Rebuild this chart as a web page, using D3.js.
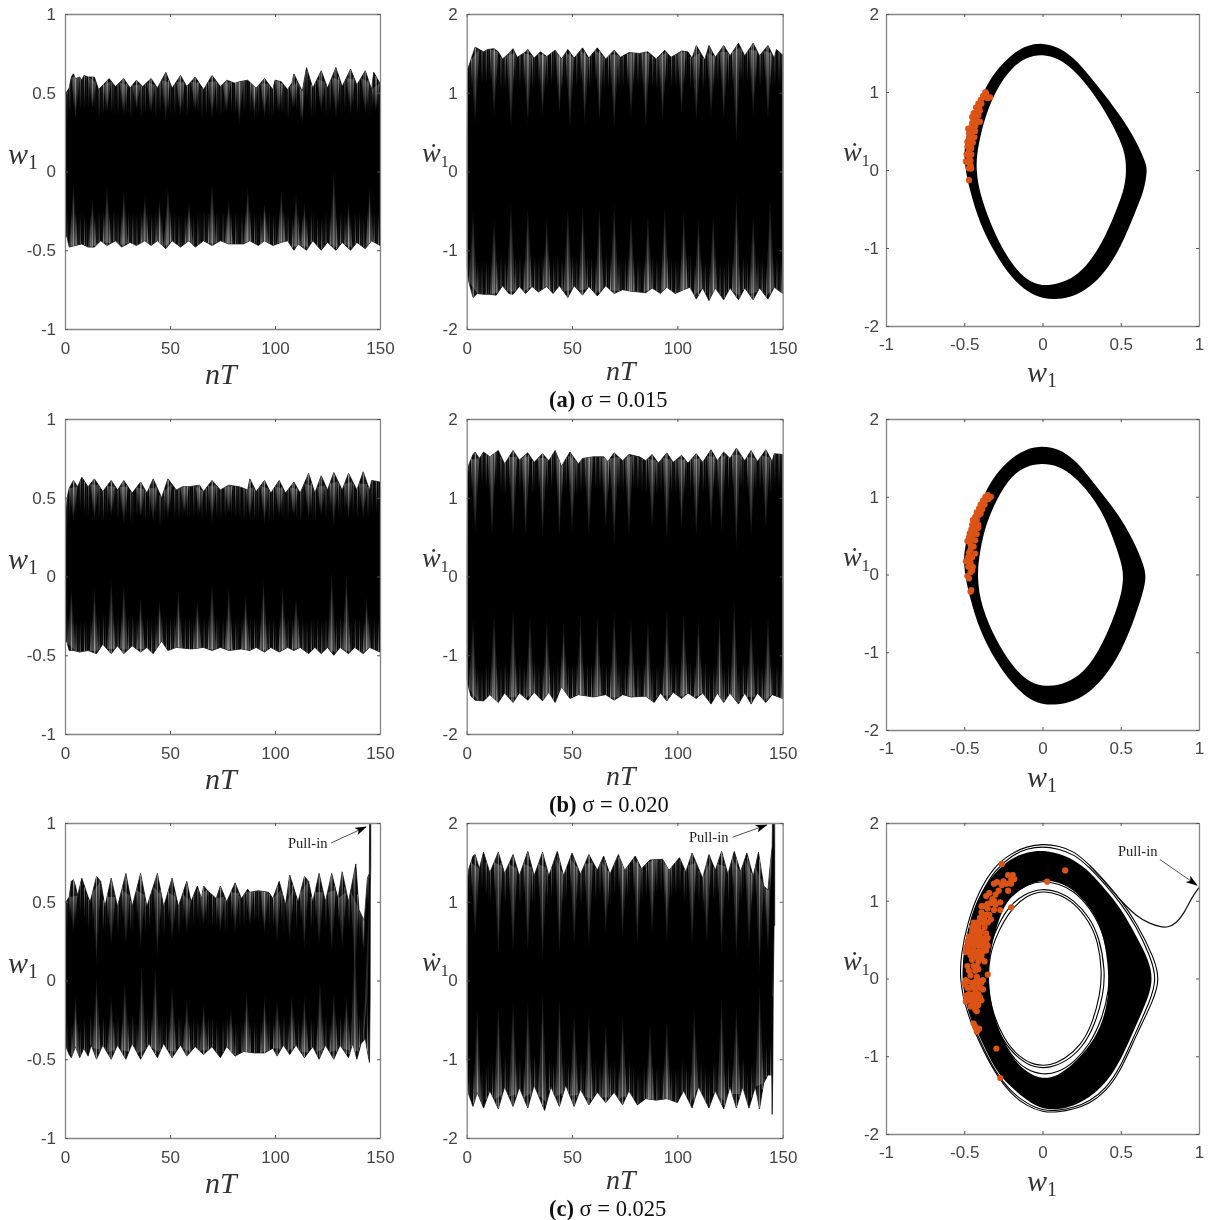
<!DOCTYPE html>
<html>
<head>
<meta charset="utf-8">
<script src="https://cdn.jsdelivr.net/npm/d3@7"></script>
<style>
html, body { margin: 0; background: #fff; }
svg { display: block; filter: blur(0.45px); }
</style>
</head>
<body>
<svg id="chart" width="1208" height="1220"></svg>
<script>
// tick labels
const timeTicks = [0, 50, 100, 150];
const w1Ticks = [-1, -0.5, 0, 0.5, 1];
const velTicks = [-2, -1, 0, 1, 2];
const captionTags = ["(a)", "(b)", "(c)"];
const captionTexts = [" σ = 0.015", " σ = 0.020", " σ = 0.025"];

// envelope of the time histories, [nT, value]
const topW1a = [[0,.3],[.5,.5],[2,.53],[3,.6],[4,.62],[5,.59],[7,.6],[8,.58],[9,.61],[11,.6],[14,.6],[16,.52],[21,.59],[24,.54],[28,.59],[31,.53],[34,.58],[37,.54],[41,.59],[44,.53],[48,.63],[51,.53],[55,.61],[58,.54],[62,.6],[66,.52],[70,.61],[74,.54],[77,.58],[81,.56],[83,.57],[87,.58],[91,.53],[95,.59],[99,.52],[100,.58],[103,.57],[106,.52],[108,.56],[109,.62],[113,.51],[115,.66],[118,.53],[122,.64],[125,.53],[129,.66],[132,.54],[136,.65],[139,.55],[143,.64],[146,.52],[147,.63],[150,.56]];
const botW1a = [[0,-.4],[1,-.42],[2,-.48],[5,-.47],[8,-.46],[11,-.48],[14,-.48],[17,-.44],[20,-.47],[24,-.44],[27,-.48],[31,-.45],[34,-.47],[38,-.44],[41,-.47],[44,-.44],[48,-.49],[51,-.44],[55,-.48],[59,-.44],[62,-.48],[66,-.44],[70,-.47],[74,-.44],[78,-.46],[85,-.46],[88,-.44],[92,-.47],[95,-.44],[99,-.47],[103,-.45],[106,-.44],[109,-.5],[111,-.46],[115,-.5],[118,-.44],[122,-.5],[125,-.45],[129,-.5],[132,-.45],[136,-.5],[139,-.45],[143,-.49],[146,-.44],[150,-.47]];
const topVela = [[0,.4],[.5,1.3],[2,1.42],[3,1.5],[4,1.58],[6,1.55],[8,1.52],[10,1.55],[13,1.56],[15,1.52],[17,1.43],[20,1.5],[22,1.56],[24,1.45],[28,1.52],[29,1.55],[32,1.44],[35,1.52],[38,1.46],[42,1.54],[45,1.43],[48,1.55],[51,1.44],[55,1.57],[58,1.44],[62,1.57],[66,1.43],[70,1.54],[73,1.45],[77,1.51],[82,1.5],[86,1.52],[90,1.43],[94,1.54],[97,1.45],[102,1.53],[105,1.52],[107,1.44],[109,1.6],[113,1.42],[115,1.6],[118,1.45],[122,1.6],[125,1.47],[129,1.63],[132,1.47],[136,1.63],[139,1.47],[143,1.6],[146,1.44],[147,1.55],[150,1.48]];
const botVela = [[0,-1.2],[1,-1.4],[2,-1.5],[3,-1.6],[5,-1.55],[8,-1.56],[11,-1.56],[14,-1.57],[17,-1.45],[20,-1.55],[22,-1.56],[25,-1.46],[28,-1.55],[31,-1.46],[34,-1.53],[38,-1.46],[41,-1.55],[44,-1.45],[48,-1.6],[51,-1.45],[55,-1.57],[58,-1.46],[62,-1.58],[66,-1.45],[70,-1.55],[74,-1.5],[78,-1.52],[85,-1.54],[88,-1.48],[92,-1.55],[95,-1.47],[99,-1.55],[103,-1.5],[106,-1.47],[109,-1.62],[112,-1.48],[115,-1.64],[118,-1.48],[122,-1.63],[125,-1.48],[129,-1.63],[132,-1.48],[136,-1.63],[139,-1.48],[143,-1.62],[146,-1.47],[150,-1.55]];
const topW1b = [[0,.3],[1,.5],[2,.56],[4,.61],[6,.57],[8,.63],[11,.57],[14,.62],[18,.54],[22,.61],[25,.55],[28,.61],[32,.53],[36,.6],[39,.53],[42,.62],[46,.5],[49,.62],[53,.55],[56,.57],[59,.57],[64,.58],[66,.54],[70,.61],[74,.55],[78,.58],[83,.57],[87,.55],[88,.62],[91,.54],[95,.61],[98,.53],[102,.61],[105,.53],[109,.6],[112,.53],[116,.655],[119,.53],[122,.64],[125,.55],[128,.66],[132,.55],[135,.655],[139,.55],[142,.665],[145,.55],[146,.61],[150,.6]];
const botW1b = [[0,-.4],[1,-.42],[2,-.47],[4,-.47],[7,-.48],[11,-.47],[15,-.49],[18,-.43],[22,-.49],[25,-.44],[28,-.49],[32,-.44],[36,-.48],[39,-.45],[42,-.49],[46,-.41],[49,-.47],[53,-.45],[60,-.46],[66,-.45],[70,-.47],[74,-.45],[78,-.47],[84,-.46],[88,-.47],[91,-.45],[95,-.48],[98,-.45],[102,-.48],[106,-.45],[109,-.47],[112,-.45],[116,-.49],[119,-.45],[122,-.49],[125,-.45],[128,-.5],[131,-.45],[135,-.49],[138,-.45],[142,-.49],[145,-.45],[150,-.48]];
const topVelb = [[0,.4],[.5,1.3],[1,1.42],[3,1.55],[4,1.58],[6,1.5],[8,1.58],[11,1.52],[15,1.6],[18,1.43],[22,1.6],[25,1.48],[29,1.57],[32,1.45],[36,1.56],[39,1.47],[42,1.6],[45,1.4],[49,1.58],[53,1.43],[55,1.5],[60,1.52],[65,1.52],[67,1.46],[70,1.57],[74,1.47],[77,1.55],[82,1.52],[85,1.47],[88,1.55],[91,1.44],[95,1.57],[98,1.45],[102,1.54],[105,1.44],[109,1.56],[112,1.45],[116,1.61],[119,1.47],[122,1.58],[125,1.5],[128,1.63],[132,1.47],[135,1.6],[138,1.46],[142,1.61],[145,1.46],[146,1.56],[150,1.55]];
const botVelb = [[0,-1.3],[1,-1.42],[2,-1.52],[4,-1.57],[8,-1.58],[11,-1.5],[15,-1.6],[18,-1.48],[22,-1.6],[25,-1.48],[29,-1.57],[32,-1.47],[36,-1.58],[39,-1.47],[42,-1.6],[45,-1.4],[49,-1.55],[53,-1.5],[60,-1.53],[66,-1.5],[70,-1.57],[74,-1.5],[78,-1.53],[85,-1.52],[89,-1.6],[92,-1.48],[95,-1.58],[98,-1.47],[102,-1.55],[105,-1.48],[109,-1.55],[112,-1.48],[116,-1.62],[119,-1.48],[122,-1.6],[125,-1.48],[129,-1.62],[132,-1.48],[135,-1.62],[138,-1.48],[142,-1.6],[145,-1.5],[150,-1.55]];
const topW1c = [[0,.3],[.5,.5],[2,.53],[3,.63],[4,.64],[5,.6],[6,.54],[8,.65],[11,.53],[12,.5],[15,.66],[17,.63],[19,.47],[22,.65],[25,.47],[29,.68],[32,.47],[36,.68],[39,.47],[44,.68],[47,.47],[51,.65],[54,.47],[58,.63],[60,.5],[63,.6],[65,.52],[66,.6],[68,.57],[72,.52],[74,.6],[77,.5],[81,.62],[84,.52],[87,.58],[88,.56],[92,.57],[97,.56],[99,.52],[102,.63],[105,.48],[107,.67],[111,.5],[114,.66],[116,.63],[118,.5],[121,.68],[124,.5],[127,.68],[130,.52],[132,.69],[135,.5],[138.5,.74],[140,.45],[141,.42],[142.5,.38],[144,.65],[144.9,.68],[145.1,1.1],[145.6,1.1]];
const botW1c = [[0,-.4],[1,-.44],[2,-.47],[3,-.49],[5,-.42],[7,-.49],[9,-.43],[11,-.48],[12.5,-.41],[15,-.5],[18,-.41],[22,-.5],[25,-.41],[29,-.5],[32,-.4],[36,-.5],[40,-.4],[44,-.49],[47,-.4],[51,-.49],[55,-.41],[58,-.48],[62,-.42],[66,-.47],[70,-.42],[74,-.49],[77,-.42],[81,-.48],[85,-.45],[90,-.46],[95,-.46],[99,-.43],[101,-.48],[104,-.41],[107,-.47],[110,-.41],[114,-.49],[118,-.42],[121,-.5],[124,-.41],[128,-.5],[131,-.41],[135,-.49],[137,-.4],[139,-.5],[141,-.4],[143,-.37],[144,-.45],[145,-.52],[145.3,-.1],[145.4,.6],[145.6,.7]];
const topVelc = [[0,.4],[.5,1.3],[1,1.42],[3,1.58],[4,1.6],[6,1.42],[8,1.63],[11,1.37],[15,1.63],[18,1.36],[22,1.6],[25,1.33],[29,1.64],[32,1.33],[36,1.63],[39,1.33],[43,1.64],[46,1.33],[50,1.62],[54,1.35],[58,1.6],[62,1.4],[65,1.58],[68,1.35],[72,1.6],[75,1.4],[80,1.58],[83,1.42],[87,1.53],[93,1.54],[96,1.4],[101,1.56],[104,1.38],[107,1.62],[112,1.3],[115,1.6],[118,1.4],[121,1.64],[124,1.35],[127,1.64],[130,1.38],[133,1.62],[136,1.32],[138.5,1.63],[141,1.2],[143,1.15],[144,1.45],[145,1.7],[145.2,2.1],[146.2,2.1]];
const botVelc = [[0,-1],[1,-1.45],[3,-1.6],[5,-1.42],[8,-1.62],[11,-1.4],[15,-1.63],[18,-1.35],[22,-1.6],[25,-1.36],[29,-1.62],[32,-1.33],[37,-1.65],[40,-1.35],[44,-1.6],[47,-1.33],[51,-1.6],[54,-1.38],[58,-1.58],[62,-1.42],[66,-1.55],[70,-1.42],[74,-1.58],[77,-1.4],[81,-1.58],[85,-1.5],[90,-1.52],[95,-1.5],[100,-1.55],[103,-1.4],[107,-1.62],[110,-1.35],[115,-1.62],[118,-1.4],[122,-1.63],[125,-1.35],[128,-1.62],[131,-1.35],[134,-1.62],[137,-1.35],[139,-1.63],[141,-1.3],[143,-1.2],[144.8,-1.2],[145,-1.7],[145.3,-1.2],[145.5,-.2],[145.9,.7],[146.2,.7]];

// light wedges reaching into the black core, [nT, tip value]
const wedgeTopW1a = [[5,.33],[13,.4],[20,.38],[28,.36],[34,.4],[41,.37],[48,.32],[55,.35],[62,.38],[70,.33],[77,.38],[83,.3],[90,.38],[95,.34],[102,.38],[109,.4],[113,.3],[122,.38],[129,.34],[136,.36],[143,.36],[148,.38]];
const wedgeBotW1a = [[4,-.08],[13,-.18],[20,-.1],[28,-.12],[38,-.16],[45,-.18],[49,-.1],[59,-.2],[70,-.08],[78,-.18],[87,-.1],[95,-.2],[103,-.12],[110,-.15],[114,-.2],[128,0],[135,-.2],[145,-.1]];
const wedgeTopVela = [[4,.6],[13,.7],[21,.55],[29,.6],[36,.7],[44,.72],[49,.55],[56,.6],[63,.62],[70,.55],[78,.7],[85,.55],[93,.65],[102,.72],[109,.62],[116,.7],[122,.65],[128,.35],[136,.7],[143,.65]];
const wedgeBotVela = [[3,-.5],[13,-.6],[21,-.4],[29,-.45],[38,-.6],[48,-.45],[55,-.45],[63,-.45],[70,-.4],[78,-.55],[86,-.55],[94,-.45],[103,-.5],[110,-.6],[117,-.55],[128,-.3],[136,-.55],[144,-.35]];
const wedgeTopW1b = [[4,.35],[14,.35],[22,.38],[28,.33],[36,.37],[42,.34],[49,.36],[57,.4],[64,.4],[70,.34],[78,.4],[88,.36],[95,.33],[102,.38],[109,.38],[116,.36],[122,.38],[128,.32],[135,.36],[142,.36]];
const wedgeBotW1b = [[3,-.07],[14,-.07],[22,-.02],[28,-.05],[36,-.13],[45,-.15],[54,-.09],[63,-.15],[70,-.04],[78,-.07],[86,-.12],[94.5,-.02],[103.6,-.07],[110,-.13],[127,.03],[134,.02],[143.6,-.13]];
const wedgeTopVelb = [[4,.55],[12,.5],[22,.5],[28,.5],[36,.5],[44,.5],[50,.55],[58,.5],[66,.6],[70,.4],[77,.5],[88,.6],[95,.45],[102,.6],[109,.5],[116,.6],[121,.55],[128,.35],[135,.5],[142,.6]];
const wedgeBotVelb = [[3,-.55],[13,-.45],[22,-.4],[30,-.5],[38,-.55],[46,-.6],[54,-.5],[62,-.5],[70,-.42],[78,-.55],[86,-.55],[95,-.4],[103,-.45],[110,-.55],[120,-.5],[127,-.3],[135,-.55],[143,-.5]];
const wedgeTopW1c = [[4,.3],[15,.1],[22,.22],[29,.22],[36,.2],[44,.15],[51,.25],[58,.3],[66,.35],[74,.3],[81,.3],[88,.35],[95,.3],[101,.25],[107,.25],[114,.2],[121,.22],[127,.18],[132,.2],[138,.05],[142,.2]];
const wedgeBotW1c = [[5,-.1],[15,.02],[22,-.1],[28.5,0],[36.5,.1],[43,.08],[51,-.04],[58,-.12],[66,-.15],[79,-.18],[86.5,-.07],[95,-.1],[101,-.12],[108,-.1],[114,-.1],[121.4,0],[128,-.08],[134,-.1],[138,.27],[144,-.1]];
const wedgeTopVelc = [[4,.55],[15,.3],[22,.35],[29,.35],[36,.25],[44,.32],[51,.45],[58,.4],[66,.6],[74,.55],[81,.45],[88,.6],[95,.5],[107,.45],[114,.45],[121,.35],[128,.3],[134,.4],[139,.1],[143,.35]];
const wedgeBotVelc = [[5,-.35],[15,-.3],[22,-.25],[29,-.25],[36,-.15],[44,-.2],[51,-.4],[58,-.4],[66,-.55],[74,-.45],[87,-.55],[95,-.5],[108,-.35],[121,-.2],[128,-.3],[139,-.05]];

// brightness of the stripes in the outer band, repeats along the record
const stripeLevels = [.6, .2, .45, .08, .55, .25, .1, .5, .15];

// phase plane bands, [w1, dw1]
const outerA = [[0,1.63],[.1,1.58],[.2,1.44],[.3,1.21],[.4,.96],[.5,.69],[.6,.37],[.66,.09],[.67,0],[.65,-.26],[.6,-.5],[.5,-1],[.4,-1.31],[.3,-1.51],[.2,-1.62],[.1,-1.66],[0,-1.65],[-.1,-1.56],[-.2,-1.38],[-.3,-1.08],[-.4,-.7],[-.47,-.23],[-.505,.13],[-.49,.47],[-.43,.75],[-.37,1.04],[-.3,1.27],[-.2,1.48],[-.1,1.6]];
const innerA = [[0,1.485],[.1,1.43],[.2,1.29],[.3,1.05],[.4,.76],[.5,.38],[.535,.15],[.535,-.15],[.49,-.43],[.4,-.87],[.3,-1.19],[.2,-1.38],[.1,-1.46],[0,-1.49],[-.1,-1.42],[-.2,-1.2],[-.3,-.85],[-.39,-.385],[-.43,0],[-.41,.34],[-.36,.73],[-.29,1.05],[-.2,1.31],[-.1,1.45]];
const outerB = [[0,1.655],[.1,1.62],[.2,1.49],[.3,1.25],[.4,.99],[.5,.73],[.6,.365],[.66,.055],[.66,-.115],[.6,-.51],[.5,-1.01],[.4,-1.31],[.3,-1.52],[.2,-1.63],[.1,-1.675],[0,-1.675],[-.1,-1.59],[-.2,-1.39],[-.3,-1.11],[-.4,-.73],[-.47,-.265],[-.51,.14],[-.49,.44],[-.44,.71],[-.37,1.05],[-.3,1.29],[-.2,1.5],[-.1,1.62]];
const innerB = [[0,1.43],[.1,1.4],[.2,1.27],[.3,1.05],[.4,.75],[.49,.25],[.515,.05],[.515,-.12],[.49,-.37],[.4,-.835],[.3,-1.18],[.2,-1.35],[.1,-1.43],[0,-1.44],[-.1,-1.37],[-.2,-1.16],[-.3,-.835],[-.39,-.42],[-.42,-.03],[-.4,.31],[-.36,.66],[-.29,.98],[-.2,1.27],[-.1,1.4]];
const outerC = [[0,1.65],[.1,1.61],[.2,1.53],[.3,1.38],[.4,1.145],[.5,.91],[.6,.545],[.68,.235],[.705,0],[.68,-.235],[.6,-.59],[.5,-1.06],[.4,-1.36],[.3,-1.53],[.2,-1.64],[.1,-1.685],[0,-1.685],[-.1,-1.57],[-.2,-1.4],[-.3,-1.19],[-.4,-.76],[-.49,-.36],[-.51,-.02],[-.51,.28],[-.47,.72],[-.41,1.06],[-.31,1.36],[-.2,1.55],[-.1,1.625]];
const innerC = [[0,1.275],[.1,1.24],[.2,1.145],[.3,.93],[.39,.62],[.43,0],[.41,-.41],[.34,-.78],[.2,-1.1],[.1,-1.25],[0,-1.3],[-.1,-1.21],[-.2,-1.02],[-.29,-.62],[-.34,-.235],[-.35,.11],[-.32,.49],[-.26,.88],[-.2,1.06],[-.1,1.2]];

// thin trajectories of the pull-in case
const loopOuter = [[0,1.73],[.1,1.71],[.2,1.64],[.3,1.465],[.4,1.25],[.5,1.01],[.6,.72],[.71,.28],[.75,0],[.71,-.28],[.6,-.72],[.5,-1.19],[.4,-1.465],[.3,-1.61],[.2,-1.68],[.1,-1.72],[0,-1.72],[-.1,-1.64],[-.2,-1.49],[-.3,-1.23],[-.4,-.845],[-.49,-.41],[-.53,0],[-.52,.32],[-.48,.71],[-.41,1.11],[-.31,1.44],[-.2,1.61],[-.1,1.7]];
const loopInner = [[0,1.7],[.1,1.67],[.2,1.6],[.3,1.43],[.4,1.21],[.5,.97],[.6,.67],[.69,.28],[.73,0],[.69,-.28],[.6,-.67],[.5,-1.14],[.4,-1.43],[.3,-1.58],[.2,-1.66],[.1,-1.7],[0,-1.7],[-.1,-1.61],[-.2,-1.46],[-.3,-1.21],[-.4,-.81],[-.48,-.4],[-.515,0],[-.5,.32],[-.465,.71],[-.395,1.09],[-.3,1.41],[-.19,1.59],[-.1,1.67]];
const pullInPath = [[.3,1.455],[.4,1.24],[.5,1],[.6,.8],[.685,.707],[.75,.665],[.8,.655],[.855,.707],[.91,.857],[.95,1.03],[1,1.17]];
const ringOne = [[0,1.26],[.1,1.22],[.2,1.13],[.3,.92],[.385,.62],[.43,.2],[.425,-.15],[.385,-.5],[.3,-.86],[.2,-1.08],[.1,-1.21],[0,-1.24],[-.1,-1.18],[-.2,-1.01],[-.3,-.62],[-.37,-.2],[-.385,.1],[-.355,.47],[-.285,.87],[-.2,1.07],[-.1,1.21]];
const ringTwo = [[0,1.16],[.1,1.12],[.2,1.01],[.3,.79],[.365,.52],[.4,.1],[.39,-.2],[.335,-.6],[.255,-.89],[.15,-1.07],[.05,-1.15],[-.05,-1.15],[-.15,-1.04],[-.255,-.81],[-.335,-.42],[-.365,-.05],[-.355,.3],[-.305,.6],[-.225,.91],[-.12,1.09]];
const ringThree = [[0,1.13],[.1,1.09],[.2,.98],[.3,.73],[.355,.48],[.38,.1],[.37,-.2],[.315,-.6],[.245,-.86],[.14,-1.04],[.05,-1.12],[-.05,-1.12],[-.15,-1.01],[-.245,-.79],[-.325,-.42],[-.35,-.05],[-.34,.3],[-.285,.6],[-.205,.88],[-.11,1.06]];

// Poincare points (orange)
const poincareA = [[-.47,-.13],[-.47,.02],[-.455,.02],[-.46,.06],[-.49,.11],[-.475,.1],[-.46,.12],[-.47,.17],[-.485,.2],[-.455,.2],[-.47,.25],[-.48,.3],[-.455,.28],[-.465,.33],[-.48,.36],[-.445,.35],[-.47,.4],[-.455,.42],[-.435,.42],[-.47,.47],[-.45,.48],[-.43,.5],[-.475,.53],[-.455,.55],[-.43,.56],[-.45,.6],[-.425,.6],[-.44,.65],[-.42,.63],[-.4,.62],[-.45,.68],[-.43,.7],[-.41,.7],[-.44,.73],[-.42,.75],[-.4,.76],[-.425,.8],[-.405,.8],[-.41,.85],[-.39,.85],[-.395,.9],[-.375,.93],[-.36,.98],[-.365,1],[-.35,.92],[-.335,.93],[-.38,.95]];
const poincareB = [[-.46,-.22],[-.455,-.2],[-.48,-.02],[-.47,-.05],[-.46,.03],[-.45,.05],[-.49,.17],[-.475,.1],[-.445,.1],[-.46,.15],[-.475,.22],[-.45,.22],[-.47,.28],[-.43,.27],[-.46,.32],[-.48,.43],[-.46,.38],[-.44,.36],[-.47,.48],[-.45,.45],[-.43,.44],[-.465,.53],[-.44,.52],[-.42,.52],[-.455,.58],[-.43,.58],[-.41,.6],[-.45,.64],[-.43,.65],[-.41,.64],[-.445,.7],[-.42,.7],[-.43,.74],[-.41,.76],[-.42,.8],[-.395,.78],[-.405,.85],[-.385,.84],[-.395,.9],[-.37,.9],[-.38,.95],[-.36,.96],[-.365,1],[-.35,1.02],[-.33,1],[-.345,.97]];
const poincareC = [[-.25,1.25],[-.22,1.33],[-.19,1.33],[-.2,1.27],[-.18,1.28],[-.23,1.22],[-.2,1.22],[-.22,1.13],[-.29,1.24],[-.26,1.2],[-.31,1.22],[-.28,1.13],[-.3,1.08],[-.34,1.1],[-.36,1.06],[-.32,1.02],[-.27,.98],[-.3,.95],[-.33,.97],[-.37,.93],[-.35,.9],[-.31,.88],[-.27,.88],[-.39,.93],[-.34,.82],[-.37,.8],[-.33,.76],[-.4,.78],[-.42,.72],[-.38,.72],[-.35,.72],[-.44,.66],[-.41,.66],[-.37,.66],[-.45,.6],[-.42,.6],[-.39,.6],[-.36,.58],[-.46,.54],[-.43,.54],[-.4,.54],[-.37,.52],[-.46,.48],[-.43,.48],[-.4,.48],[-.36,.46],[-.47,.42],[-.44,.42],[-.41,.42],[-.37,.4],[-.47,.36],[-.44,.36],[-.41,.35],[-.38,.35],[-.46,.3],[-.42,.28],[-.39,.3],[-.45,.24],[-.41,.22],[-.48,.16],[-.44,.16],[-.47,.1],[-.43,.1],[-.41,.12],[-.46,.04],[-.42,.02],[-.48,-.04],[-.45,-.06],[-.41,-.02],[-.39,-.05],[-.5,-.07],[-.46,-.12],[-.43,-.14],[-.4,-.12],[-.38,-.14],[-.47,-.2],[-.44,-.2],[-.41,-.2],[-.48,-.28],[-.45,-.3],[-.42,-.26],[-.39,-.28],[-.49,-.3],[-.46,-.36],[-.43,-.4],[-.41,-.34],[-.42,-.42],[-.44,-.58],[-.43,-.62],[-.42,-.685],[-.405,-.645],[-.415,-.665],[-.26,1.47],[.145,1.39],[.03,1.245],[-.2,.915],[-.35,.05],[-.295,-.9],[-.27,-1.28],[-.49,.4],[-.49,.34],[-.48,.48],[-.47,.54],[-.45,.66],[-.35,.52],[-.35,.42],[-.36,.36],[-.39,.42],[-.39,.48],[-.42,.45],[-.45,.45],[-.45,.51],[-.42,.51],[-.4,.6],[-.43,.66],[-.4,.72],[-.44,.72],[-.37,.74],[-.36,.82],[-.39,.85],[-.35,.96],[-.31,1],[-.39,.26],[-.37,.22],[-.44,.3],[-.42,.16],[-.49,-.02],[-.43,-.04],[-.38,-.02],[-.48,-.12],[-.44,-.1],[-.42,-.08],[-.49,-.22],[-.45,-.24],[-.4,-.24],[-.44,-.34],[-.47,-.28],[-.43,-.3]];

const orange = "#dc5316";
const axisGrey = "#858585";
const labelGrey = "#444";

var svg = d3.select("#chart");
var defs = svg.append("defs");

function fadeGradient(id, y1, y2) {
    var g = defs.append("linearGradient").attr("id", id)
        .attr("x1", 0).attr("x2", 0).attr("y1", y1).attr("y2", y2);
    g.append("stop").attr("offset", 0).attr("stop-color", "#c8c8c8").attr("stop-opacity", 1);
    g.append("stop").attr("offset", 1).attr("stop-color", "#c8c8c8").attr("stop-opacity", 0);
}
fadeGradient("fadeDown", 0, 1);
fadeGradient("fadeUp", 1, 0);

function drawFrame(p, xTicks, yTicks, xPad, yPad) {
    var g = svg.append("g");
    g.append("g").attr("transform", "translate(0," + p.bottom + ")")
        .call(d3.axisBottom(p.x).tickValues(xTicks).tickFormat(String).tickSizeInner(-3).tickSizeOuter(0).tickPadding(xPad));
    g.append("g").attr("transform", "translate(0," + p.top + ")")
        .call(d3.axisTop(p.x).tickValues(xTicks).tickFormat("").tickSizeInner(-3).tickSizeOuter(0));
    g.append("g").attr("transform", "translate(" + p.left + ",0)")
        .call(d3.axisLeft(p.y).tickValues(yTicks).tickFormat(String).tickSizeInner(-3).tickSizeOuter(0).tickPadding(yPad));
    g.append("g").attr("transform", "translate(" + p.right + ",0)")
        .call(d3.axisRight(p.y).tickValues(yTicks).tickFormat("").tickSizeInner(-3).tickSizeOuter(0));
    g.selectAll("path.domain").attr("stroke", axisGrey).attr("stroke-width", 1.3);
    g.selectAll(".tick line").attr("stroke", "#555").attr("stroke-width", 1);
    g.selectAll("text").attr("font-family", "Liberation Sans").attr("font-size", 17).attr("fill", labelGrey);
}

function mathLabel(x, y, base, sub, size) {
    var t = svg.append("text").attr("x", x).attr("y", y)
        .attr("font-family", "Liberation Serif").attr("fill", "#333");
    t.append("tspan").attr("font-size", size || 30).attr("font-style", "italic").text(base);
    if (sub) t.append("tspan").attr("font-size", size ? 16 : 20).attr("dy", 5).text(sub);
    return t;
}

function pullInNote(p, tx, ty, from, to) {
    svg.append("text").attr("x", tx).attr("y", ty)
        .attr("font-family", "Liberation Serif").attr("font-size", 14.5).attr("fill", "#222").text("Pull-in");
    svg.append("line")
        .attr("x1", p.x(from[0])).attr("y1", p.y(from[1]))
        .attr("x2", p.x(to[0])).attr("y2", p.y(to[1]))
        .attr("stroke", "#222").attr("stroke-width", .8).attr("marker-end", "url(#arrowHead)");
}

defs.append("marker").attr("id", "arrowHead").attr("viewBox", "0 0 12 8")
    .attr("refX", 11).attr("refY", 4).attr("markerWidth", 12).attr("markerHeight", 8)
    .attr("markerUnits", "userSpaceOnUse").attr("orient", "auto")
    .append("path").attr("d", "M0,0L12,4L0,8L3,4Z").attr("fill", "#000");

var clipCount = 0;
// one time history: black envelope, grey stripes at the rim, light wedges
function drawHistory(p, top, bot, wedgeTop, wedgeBot, fade) {
    var line = d3.line().x(d => p.x(d[0])).y(d => p.y(d[1]));
    var envPath = line(top.concat(bot.slice().reverse())) + "Z";
    var id = "clip" + (clipCount++);
    defs.append("clipPath").attr("id", id).append("path").attr("d", envPath);
    defs.append("clipPath").attr("id", id + "f")
        .append("rect").attr("x", p.left).attr("y", p.top)
        .attr("width", p.right - p.left).attr("height", p.bottom - p.top);

    var outer = svg.append("g").attr("clip-path", "url(#" + id + "f)");
    outer.append("path").attr("d", envPath).attr("fill", "#000").attr("stroke", "#000").attr("stroke-width", .7);
    var g = outer.append("g").attr("clip-path", "url(#" + id + ")");

    var lookupTop = d3.scaleLinear().domain(top.map(d => d[0])).range(top.map(d => d[1]));
    var lookupBot = d3.scaleLinear().domain(bot.map(d => d[0])).range(bot.map(d => d[1]));
    var last = Math.min(top[top.length - 1][0], bot[bot.length - 1][0]);
    var stripeTimes = d3.range(0, last, 1);
    var colW = p.x(1) - p.x(0);

    function wedges(list, lookup, fill) {
        g.selectAll(null).data(list).enter().append("path")
            .attr("d", d => line([[d[0] - 2, lookup(d[0] - 2)], [d[0] + 2, lookup(d[0] + 2)], [d[0], d[1]]]) + "Z")
            .attr("fill", fill).attr("opacity", .3);
        g.selectAll(null).data(list).enter().append("rect")
            .attr("x", d => p.x(d[0]) - .5).attr("width", 1)
            .attr("y", d => Math.min(p.y(lookup(d[0])), p.y(d[1])))
            .attr("height", d => Math.abs(p.y(lookup(d[0])) - p.y(d[1])))
            .attr("fill", fill).attr("opacity", .7);
    }
    wedges(wedgeTop, lookupTop, "url(#fadeDown)");
    wedges(wedgeBot, lookupBot, "url(#fadeUp)");

    g.selectAll("rect.st").data(stripeTimes).enter().append("rect").attr("class", "st")
        .attr("x", d => p.x(d)).attr("width", colW * .55)
        .attr("y", d => p.y(lookupTop(d + .5)))
        .attr("height", d => p.y(lookupTop(d + .5) - fade) - p.y(lookupTop(d + .5)))
        .attr("fill", "url(#fadeDown)").attr("opacity", (d, i) => stripeLevels[i % stripeLevels.length]);
    g.selectAll("rect.sb").data(stripeTimes).enter().append("rect").attr("class", "sb")
        .attr("x", d => p.x(d)).attr("width", colW * .55)
        .attr("y", d => p.y(lookupBot(d + .5) + fade))
        .attr("height", d => p.y(lookupBot(d + .5)) - p.y(lookupBot(d + .5) + fade))
        .attr("fill", "url(#fadeUp)").attr("opacity", (d, i) => stripeLevels[(i + 4) % stripeLevels.length]);
}

function drawPhase(p, outer, inner) {
    var closed = d3.line().x(d => p.x(d[0])).y(d => p.y(d[1])).curve(d3.curveBasisClosed);
    svg.append("path").attr("d", closed(outer) + closed(inner))
        .attr("fill", "#000").attr("fill-rule", "evenodd");
}

function drawPoincare(p, points) {
    svg.append("g").selectAll("circle").data(points).enter().append("circle")
        .attr("cx", d => p.x(d[0])).attr("cy", d => p.y(d[1])).attr("r", 3.1).attr("fill", orange);
}

const rowTops = [14, 419, 823];
const rowBottoms = [329, 734, 1138];
const phaseBottoms = [326, 730, 1134];
const historyW1 = [[topW1a, botW1a, wedgeTopW1a, wedgeBotW1a], [topW1b, botW1b, wedgeTopW1b, wedgeBotW1b], [topW1c, botW1c, wedgeTopW1c, wedgeBotW1c]];
const historyVel = [[topVela, botVela, wedgeTopVela, wedgeBotVela], [topVelb, botVelb, wedgeTopVelb, wedgeBotVelb], [topVelc, botVelc, wedgeTopVelc, wedgeBotVelc]];
const phaseBands = [[outerA, innerA, poincareA], [outerB, innerB, poincareB], [outerC, innerC, poincareC]];

function panel(left, right, top, bottom, xDom, yDom) {
    return {
        left: left, right: right, top: top, bottom: bottom,
        x: d3.scaleLinear().domain(xDom).range([left, right]),
        y: d3.scaleLinear().domain(yDom).range([bottom, top])
    };
}

rowTops.forEach(function (rowTop, r) {
    var dy = rowTop - rowTops[0];

    // left column, w1 against nT
    var p1 = panel(65, 380, rowTop, rowBottoms[r], [0, 150], [-1, 1]);
    drawHistory(p1, historyW1[r][0], historyW1[r][1], historyW1[r][2], historyW1[r][3], .2);
    drawFrame(p1, timeTicks, w1Ticks, 13, 9);
    mathLabel(8, 164 + dy, "w", "1");
    mathLabel(205, 384 + dy, "nT");

    // middle column, velocity against nT
    var p2 = panel(466.7, 782.7, rowTop, rowBottoms[r], [0, 150], [-2, 2]);
    drawHistory(p2, historyVel[r][0], historyVel[r][1], historyVel[r][2], historyVel[r][3], .42);
    drawFrame(p2, timeTicks, velTicks, 13, 9);
    mathLabel(422, 162 + dy, "ẇ", "1", 28);
    mathLabel(606, 380 + dy, "nT", null, 28);

    // right column, phase plane
    var p3 = panel(886, 1199, rowTop, phaseBottoms[r], [-1, 1], [-2, 2]);
    drawPhase(p3, phaseBands[r][0], phaseBands[r][1]);
    if (r == 2) {
        var closed = d3.line().x(d => p3.x(d[0])).y(d => p3.y(d[1])).curve(d3.curveBasisClosed);
        var open = d3.line().x(d => p3.x(d[0])).y(d => p3.y(d[1])).curve(d3.curveBasis);
        [loopOuter, loopInner, ringOne, ringTwo, ringThree].forEach(function (loop) {
            svg.append("path").attr("d", closed(loop)).attr("fill", "none").attr("stroke", "#000").attr("stroke-width", 1.1);
        });
        svg.append("path").attr("d", open(pullInPath)).attr("fill", "none").attr("stroke", "#111").attr("stroke-width", 1.2);
    }
    drawPoincare(p3, phaseBands[r][2]);
    drawFrame(p3, w1Ticks, velTicks, 12, 7);
    mathLabel(1027, 382 + dy, "w", "1");
    mathLabel(843, 161 + dy, "ẇ", "1", 28);

    // caption
    var cap = svg.append("text").attr("x", 549).attr("y", 406.5 + dy)
        .attr("font-family", "Liberation Serif").attr("font-size", 22.5).attr("fill", "#111");
    cap.append("tspan").attr("font-weight", "bold").text(captionTags[r]);
    cap.append("tspan").text(captionTexts[r]);

    if (r == 2) {
        pullInNote(p1, 288, 848, [126.7, .873], [143.3, .975]);
        pullInNote(p2, 689, 842, [126.2, 1.82], [142.4, 1.975]);
        pullInNote(p3, 1118, 856, [.75, 1.53], [.987, 1.2]);
    }
});
</script>
</body>
</html>
